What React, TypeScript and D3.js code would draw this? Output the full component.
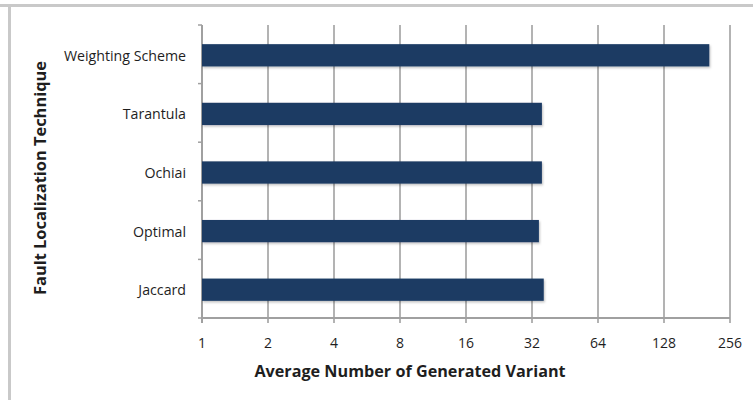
import React from "react";
import * as d3 from "d3";

const categories = ["Weighting Scheme", "Tarantula", "Ochiai", "Optimal", "Jaccard"];
const values = [206, 35.5, 35.5, 34.4, 36.2];
const xTicks = [1, 2, 4, 8, 16, 32, 64, 128, 256];
const xTitle = "Average Number of Generated Variant";
const yTitle = "Fault Localization Technique";

const W = 753;
const H = 400;
const left = 202;
const right = 730;
const top = 25;
const bottom = 318;
const font = "'Open Sans', Lato, sans-serif";

export default function App() {
  const x = d3.scaleLog().base(2).domain([1, 256]).range([left, right]);
  const y = d3.scaleBand().domain(categories).range([top, bottom]).paddingInner(0.62).paddingOuter(0.31);
  const band = d3.scaleBand().domain(categories).range([top, bottom]);
  const boundaries = [top, ...categories.map((c) => (band(c) as number) + band.bandwidth())];
  return (
    <svg width={W} height={H} style={{ position: "absolute", left: 0, top: 0, background: "#fff" }}>
      <defs>
        <filter id="sh" x="-5%" y="-30%" width="110%" height="160%">
          <feDropShadow dx="1" dy="1.5" stdDeviation="1" floodColor="#000" floodOpacity="0.25" />
        </filter>
      </defs>
      <rect x={0} y={0} width={W} height={H} fill="#fff" />
      <rect x={0} y={4} width={W} height={3} fill="#c9c9c9" />
      <rect x={8} y={4} width={3} height={H - 4} fill="#c9c9c9" />
      {xTicks.slice(1).map((t) => (
        <line key={"g" + t} x1={x(t)} x2={x(t)} y1={top} y2={bottom + 5} stroke="#b3b3b3" strokeWidth={2} />
      ))}
      <line x1={x(1)} x2={x(1)} y1={top} y2={bottom + 5} stroke="#a0a0a0" strokeWidth={2} />
      <line x1={left} x2={right} y1={bottom} y2={bottom} stroke="#a0a0a0" strokeWidth={2} />
      {boundaries.map((b, i) => (
        <line key={"yt" + i} x1={left - 4} x2={left} y1={b} y2={b} stroke="#a0a0a0" strokeWidth={1.5} />
      ))}
      {categories.map((c, i) => (
        <rect
          key={c}
          x={x(1)}
          y={(y(c) as number) + 1}
          width={x(values[i]) - x(1)}
          height={y.bandwidth()}
          fill="#1b3a64"
          filter="url(#sh)"
        />
      ))}
      {categories.map((c) => (
        <text
          key={"l" + c}
          x={186}
          y={(y(c) as number) + 1 + y.bandwidth() / 2}
          textAnchor="end"
          dominantBaseline="central"
          fontFamily={font}
          fontSize={14.2}
          fill="#1e1e1e"
        >
          {c}
        </text>
      ))}
      {xTicks.map((t) => (
        <text
          key={"x" + t}
          x={x(t)}
          y={342}
          textAnchor="middle"
          dominantBaseline="central"
          fontFamily={font}
          fontSize={14}
          fill="#1e1e1e"
        >
          {t}
        </text>
      ))}
      <text x={410} y={371} textAnchor="middle" dominantBaseline="central" fontFamily={font} fontSize={16.2} fontWeight="bold" fill="#1e1e1e">
        {xTitle}
      </text>
      <text
        transform={`translate(39,178) rotate(-90)`}
        textAnchor="middle"
        dominantBaseline="central"
        fontFamily={font}
        fontSize={16.4}
        fontWeight="bold"
        fill="#1e1e1e"
      >
        {yTitle}
      </text>
    </svg>
  );
}
